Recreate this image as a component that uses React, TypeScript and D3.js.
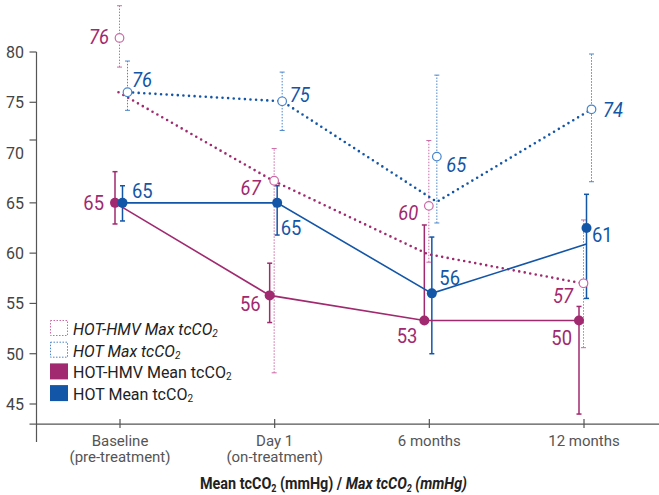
import React from 'react'
import * as d3 from 'd3'

// categories and tick labels
const categories = ['Baseline', 'Day 1', '6 months', '12 months']
const categoryNotes = ['(pre-treatment)', '(on-treatment)', '', '']
const yTickValues = [45, 50, 55, 60, 65, 70, 75, 80]
const yTickMarks = [43, 45, 50, 55, 60, 65, 71.25, 75, 80]

// HOT-HMV mean tcCO2
const hmvMean = [65, 55.8, 53.3, 53.3]
const hmvMeanLow = [62.9, 53.1, 53.3, 44.0]
const hmvMeanHigh = [68.1, 59.0, 62.8, 54.7]
const hmvMeanLabels = ['65', '56', '53', '50']

// HOT-HMV max tcCO2
const hmvMaxLine = [76, 67.2, 59.9, 57.0]
const hmvMaxPoint = [81.4, 67.2, 64.7, 57.0]
const hmvMaxLow = [78.5, 48.1, 59.1, 50.6]
const hmvMaxHigh = [84.6, 70.4, 71.2, 63.3]
const hmvMaxLabels = ['76', '67', '60', '57']

// HOT mean tcCO2
const hotMeanLine = [65, 65, 56, 60.9]
const hotMeanPoint = [65, 65, 56, 62.5]
const hotMeanLow = [63.2, 61.8, 50.0, 55.5]
const hotMeanHigh = [66.7, 66.7, 61.6, 65.85]
const hotMeanLabels = ['65', '65', '56', '61']

// HOT max tcCO2
const hotMaxLine = [76, 75.1, 65.1, 74.3]
const hotMaxPoint = [76, 75.1, 69.6, 74.3]
const hotMaxLow = [74.2, 72.2, 63.0, 67.1]
const hotMaxHigh = [79.1, 78.0, 77.7, 79.8]
const hotMaxLabels = ['76', '75', '65', '74']

// label placement (dx, dy from the marker, anchor)
type Pos = [number, number, 'start' | 'end']
const hmvMeanLabelPos: Pos[] = [[-16, 7, 'end'], [-14, 16, 'end'], [-12, 22, 'end'], [-12, 24, 'end']]
const hotMeanLabelPos: Pos[] = [[12, -5, 'start'], [6, 32, 'start'], [10, -8, 'start'], [8, 14, 'start']]
const hmvMaxLabelPos: Pos[] = [[-11, 6, 'end'], [-14, 14, 'end'], [-11, 14, 'end'], [-11, 20, 'end']]
const hotMaxLabelPos: Pos[] = [[12, -5, 'start'], [15, 1, 'start'], [17, 15, 'start'], [19, 8, 'start']]

const PURPLE = '#a0296f'
const BLUE = '#1356a8'
const PINK_LIGHT = '#cc6aa6'
const BLUE_LIGHT = '#4a86cc'
const FONT = 'Roboto, sans-serif'

const width = 659
const height = 495

const x = d3.scalePoint<string>().domain(categories).range([120, 584])
const y = d3.scaleLinear().domain([45, 80]).range([404, 52])

const cx = (i: number) => x(categories[i]) as number

const lineGen = (shift: number) =>
  d3
    .line<number>()
    .x((_, i) => cx(i) + shift)
    .y((d) => y(d))

type Series = {
  shift: number
  point: number[]
  low: number[]
  high: number[]
  color: string
  barColor: string
  dotted: boolean
}

const ErrorBars = ({ s }: { s: Series }) => (
  <g>
    {s.point.map((_, i) => {
      const px = cx(i) + s.shift
      return (
        <g key={i} stroke={s.barColor} strokeWidth={s.dotted ? 1 : 1.5}>
          <line
            x1={px}
            x2={px}
            y1={y(s.low[i])}
            y2={y(s.high[i])}
            strokeDasharray={s.dotted ? '1.5,1.5' : undefined}
          />
          <line x1={px - 2.5} x2={px + 2.5} y1={y(s.low[i])} y2={y(s.low[i])} />
          <line x1={px - 2.5} x2={px + 2.5} y1={y(s.high[i])} y2={y(s.high[i])} />
        </g>
      )
    })}
  </g>
)

const Labels = ({
  s,
  labels,
  pos,
  italic
}: {
  s: Series
  labels: string[]
  pos: Pos[]
  italic: boolean
}) => (
  <g fontSize={20} fill={s.color} fontStyle={italic ? 'italic' : 'normal'}>
    {labels.map((t, i) => (
      <text
        key={i}
        x={cx(i) + pos[i][0]}
        y={y(s.point[i]) + pos[i][1]}
        textAnchor={pos[i][2]}
        transform={`translate(${cx(i) + pos[i][0]},0) scale(0.92,1) translate(${-(cx(i) + pos[i][0])},0)`}
      >
        {t}
      </text>
    ))}
  </g>
)

const App = () => {
  const hmvMeanS: Series = { shift: -5, point: hmvMean, low: hmvMeanLow, high: hmvMeanHigh, color: PURPLE, barColor: PURPLE, dotted: false }
  const hotMeanS: Series = { shift: 2.5, point: hotMeanPoint, low: hotMeanLow, high: hotMeanHigh, color: BLUE, barColor: BLUE, dotted: false }
  const hmvMaxS: Series = { shift: -0.5, point: hmvMaxPoint, low: hmvMaxLow, high: hmvMaxHigh, color: PURPLE, barColor: PINK_LIGHT, dotted: true }
  const hotMaxS: Series = { shift: 7.5, point: hotMaxPoint, low: hotMaxLow, high: hotMaxHigh, color: BLUE, barColor: BLUE_LIGHT, dotted: true }

  const legend = [
    { label: 'HOT-HMV Max tcCO', color: PINK_LIGHT, filled: false, italic: true },
    { label: 'HOT Max tcCO', color: BLUE_LIGHT, filled: false, italic: true },
    { label: 'HOT-HMV Mean tcCO', color: PURPLE, filled: true, italic: false },
    { label: 'HOT Mean tcCO', color: BLUE, filled: true, italic: false }
  ]

  return (
    <svg
      width={width}
      height={height}
      style={{ position: 'absolute', left: 0, top: 0, background: '#fff' }}
      fontFamily={FONT}
    >
      {/* y axis */}
      <line x1={36.5} x2={36.5} y1={y(80)} y2={442} stroke="#555" strokeWidth={1.2} />
      {yTickMarks.map((t) => (
        <line key={t} x1={29.5} x2={36.5} y1={y(t)} y2={y(t)} stroke="#555" strokeWidth={1.2} />
      ))}
      {yTickValues.map((t) => (
        <text key={t} x={24} y={y(t) + 6} textAnchor="end" fontSize={16} fill="#444">
          {t}
        </text>
      ))}

      {/* x axis */}
      <line x1={36.5} x2={width} y1={y(43)} y2={y(43)} stroke="#555" strokeWidth={1.2} />
      {categories.map((c, i) => (
        <g key={c}>
          <line x1={cx(i)} x2={cx(i)} y1={y(43) - 5} y2={y(43) + 4} stroke="#555" strokeWidth={1.2} />
          <text x={cx(i)} y={446} textAnchor="middle" fontSize={15} fill="#555">
            {c}
          </text>
          {categoryNotes[i] && (
            <text x={cx(i)} y={462} textAnchor="middle" fontSize={15} fill="#555">
              {categoryNotes[i]}
            </text>
          )}
        </g>
      ))}
      <text
        x={200}
        y={489}
        fontSize={16}
        fontWeight="bold"
        fill="#222"
        textLength={267}
        lengthAdjust="spacingAndGlyphs"
      >
        <tspan>Mean tcCO</tspan>
        <tspan fontSize={10} dy={3}>2</tspan>
        <tspan dy={-3}> (mmHg) / </tspan>
        <tspan fontStyle="italic">Max tcCO</tspan>
        <tspan fontStyle="italic" fontSize={10} dy={3}>2</tspan>
        <tspan fontStyle="italic" dy={-3}> (mmHg)</tspan>
      </text>

      {/* error bars */}
      <ErrorBars s={hmvMaxS} />
      <ErrorBars s={hotMaxS} />
      <ErrorBars s={hmvMeanS} />
      <ErrorBars s={hotMeanS} />

      {/* max lines (dotted) */}
      <path
        d={lineGen(-1.5)(hmvMaxLine) || ''}
        fill="none"
        stroke={PURPLE}
        strokeWidth={2.6}
        strokeLinecap="round"
        strokeDasharray="0,5.6"
      />
      <path
        d={lineGen(7.5)(hotMaxLine) || ''}
        fill="none"
        stroke={BLUE}
        strokeWidth={2.6}
        strokeLinecap="round"
        strokeDasharray="0,5.6"
      />

      {/* mean lines */}
      <path d={lineGen(-5)(hmvMean) || ''} fill="none" stroke={PURPLE} strokeWidth={1.6} />
      <path d={lineGen(2.5)(hotMeanLine) || ''} fill="none" stroke={BLUE} strokeWidth={1.6} />

      {/* max markers */}
      {hmvMaxPoint.map((v, i) => (
        <circle key={'pm' + i} cx={cx(i) - 0.5} cy={y(v)} r={4.3} fill="#fff" stroke={PINK_LIGHT} strokeWidth={1.2} />
      ))}
      {hotMaxPoint.map((v, i) => (
        <circle key={'bm' + i} cx={cx(i) + 7.5} cy={y(v)} r={4.3} fill="#fff" stroke={BLUE_LIGHT} strokeWidth={1.2} />
      ))}

      {/* mean markers */}
      {hmvMean.map((v, i) => (
        <circle key={'pd' + i} cx={cx(i) - 5} cy={y(v)} r={5} fill={PURPLE} />
      ))}
      {hotMeanPoint.map((v, i) => (
        <circle key={'bd' + i} cx={cx(i) + 2.5} cy={y(v)} r={5} fill={BLUE} />
      ))}

      {/* value labels */}
      <Labels s={hmvMeanS} labels={hmvMeanLabels} pos={hmvMeanLabelPos} italic={false} />
      <Labels s={hotMeanS} labels={hotMeanLabels} pos={hotMeanLabelPos} italic={false} />
      <Labels s={hmvMaxS} labels={hmvMaxLabels} pos={hmvMaxLabelPos} italic={true} />
      <Labels s={hotMaxS} labels={hotMaxLabels} pos={hotMaxLabelPos} italic={true} />

      {/* legend */}
      {legend.map((d, i) => (
        <g key={d.label} transform={`translate(50, ${320 + i * 21.7})`}>
          {d.filled ? (
            <rect x={0} y={0} width={18} height={16} fill={d.color} />
          ) : (
            <rect
              x={0.5}
              y={0.5}
              width={17}
              height={15}
              fill="#fff"
              stroke={d.color}
              strokeWidth={1}
              strokeDasharray="1.5,1.5"
            />
          )}
          <text x={23} y={15} fontSize={16} fill="#222" fontStyle={d.italic ? 'italic' : 'normal'}>
            {d.label}
            <tspan fontSize={10} dy={2}>2</tspan>
          </text>
        </g>
      ))}
    </svg>
  )
}

export default App
